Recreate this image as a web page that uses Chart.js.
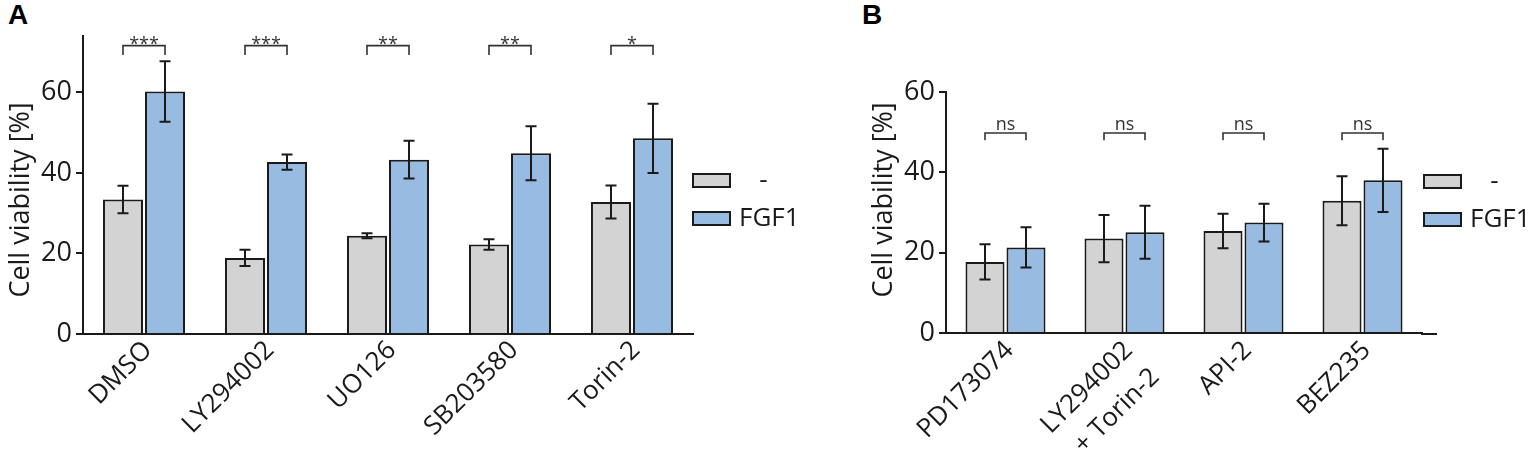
<!DOCTYPE html>
<html><head><meta charset="utf-8">
<script src="https://cdn.jsdelivr.net/npm/chart.js@4.4.0/dist/chart.umd.min.js"></script>
<style>
html,body{margin:0;padding:0;background:#fff;width:1535px;height:463px;overflow:hidden}
#wa{position:absolute;left:0;top:0;width:830px;height:463px}
#wb{position:absolute;left:840px;top:0;width:695px;height:463px}
.lab{position:absolute;font-family:"Liberation Sans",Arial,sans-serif;font-weight:bold;font-size:28px;line-height:28px;color:#000}
</style></head><body>
<div class="lab" style="left:8px;top:1px">A</div>
<div class="lab" style="left:862px;top:1px">B</div>
<div id="wa"><canvas id="ca" width="830" height="463"></canvas></div>
<div id="wb"><canvas id="cb" width="695" height="463"></canvas></div>
<script>
// ---- data ----
const seriesLabels = ['   -', 'FGF1'];
const yTitle = 'Cell viability [%]';

const categoriesA = ['DMSO', 'LY294002', 'UO126', 'SB203580', 'Torin-2'];
const controlA    = [33.4, 18.9, 24.4, 22.2, 32.8];
const controlErrA = [3.4, 2.0, 0.6, 1.3, 4.1];
const fgf1A       = [60.2, 42.7, 43.3, 44.9, 48.6];
const fgf1ErrA    = [7.5, 1.9, 4.7, 6.7, 8.6];
const signifA     = ['***', '***', '**', '**', '*'];

const categoriesB = ['PD173074', ['LY294002', '+ Torin-2'], 'API-2', 'BEZ235'];
const controlB    = [17.7, 23.5, 25.4, 32.9];
const controlErrB = [4.4, 5.9, 4.3, 6.1];
const fgf1B       = [21.3, 25.1, 27.5, 38.0];
const fgf1ErrB    = [5.0, 6.6, 4.7, 7.9];
const signifB     = ['ns', 'ns', 'ns', 'ns'];

// ---- styles ----
const FONT = "'Open Sans','Noto Sans',sans-serif";
const INK = '#1a1a1a';
const GRAY = '#d3d3d3';
const BLUE = '#98bbe1';

const decor = {
  id: 'decor',
  afterDatasetsDraw(chart, args, o) {
    const ctx = chart.ctx;
    const y = chart.scales.y;
    const ca = chart.chartArea;
    ctx.save();
    // error bars
    ctx.strokeStyle = INK; ctx.lineWidth = 2;
    chart.data.datasets.forEach((ds, di) => {
      const meta = chart.getDatasetMeta(di);
      meta.data.forEach((bar, i) => {
        const v = ds.data[i], e = o.errors[di][i];
        const x = bar.x, yt = y.getPixelForValue(v + e), yb = y.getPixelForValue(v - e);
        ctx.beginPath();
        ctx.moveTo(x, yt); ctx.lineTo(x, yb);
        ctx.moveTo(x - 5.5, yt); ctx.lineTo(x + 5.5, yt);
        ctx.moveTo(x - 5.5, yb); ctx.lineTo(x + 5.5, yb);
        ctx.stroke();
      });
    });
    // significance brackets
    const m0 = chart.getDatasetMeta(0), m1 = chart.getDatasetMeta(1);
    const bt = y.getPixelForValue(o.bracketLevel), bd = y.getPixelForValue(o.bracketLevel - o.bracketDrop);
    ctx.strokeStyle = '#333'; ctx.lineWidth = 1.6;
    ctx.fillStyle = '#333';
    ctx.font = o.sigSize + 'px ' + FONT;
    ctx.textAlign = 'center'; ctx.textBaseline = 'alphabetic';
    o.signif.forEach((s, i) => {
      const x0 = m0.data[i].x, x1 = m1.data[i].x;
      ctx.beginPath();
      ctx.moveTo(x0, bd); ctx.lineTo(x0, bt); ctx.lineTo(x1, bt); ctx.lineTo(x1, bd);
      ctx.stroke();
      ctx.fillText(s, (x0 + x1) / 2, bt + o.sigOffset);
    });
    // x-axis extension
    if (o.axisExtend) {
      ctx.strokeStyle = INK; ctx.lineWidth = 2;
      ctx.beginPath();
      ctx.moveTo(ca.right - 1, ca.bottom + 1); ctx.lineTo(ca.right + o.axisExtend, ca.bottom + 1);
      ctx.stroke();
    }
    // legend
    ctx.font = '26px ' + FONT;
    ctx.textAlign = 'left'; ctx.textBaseline = 'middle';
    chart.data.datasets.forEach((ds, i) => {
      const lx = ca.right + o.legendDx, ly = o.legendY + i * 38;
      ctx.fillStyle = ds.backgroundColor;
      ctx.fillRect(lx, ly, 37, 13);
      ctx.strokeStyle = INK; ctx.lineWidth = 2;
      ctx.strokeRect(lx, ly, 37, 13);
      ctx.fillStyle = INK;
      ctx.fillText(ds.label, lx + 46, ly + 7);
    });
    // y title
    ctx.save();
    ctx.translate(o.titleX, o.titleY);
    ctx.rotate(-Math.PI / 2);
    ctx.textAlign = 'center'; ctx.textBaseline = 'middle';
    ctx.fillStyle = INK;
    ctx.font = '27px ' + FONT;
    ctx.fillText(yTitle, 0, 0);
    ctx.restore();
    ctx.restore();
  }
};

function makeChart(id, c) {
  return new Chart(document.getElementById(id), {
    type: 'bar',
    data: {
      labels: c.labels,
      datasets: [
        { label: seriesLabels[0], data: c.ctrl, backgroundColor: GRAY, borderColor: INK, borderWidth: 2 },
        { label: seriesLabels[1], data: c.fgf, backgroundColor: BLUE, borderColor: INK, borderWidth: 2 }
      ]
    },
    plugins: [decor],
    options: {
      responsive: false,
      animation: false,
      categoryPercentage: 0.689,
      barPercentage: 0.952,
      layout: { padding: { top: c.top, right: c.right, left: 0, bottom: 0 } },
      plugins: {
        legend: { display: false },
        tooltip: { enabled: false },
        decor: {
          errors: [c.ctrlErr, c.fgfErr],
          signif: c.signif, bracketLevel: c.bLevel, bracketDrop: c.bDrop,
          sigSize: c.sigSize, sigOffset: c.sigOffset,
          axisExtend: c.extend, legendDx: c.legendDx, legendY: c.legendY,
          titleX: c.titleX, titleY: 200
        }
      },
      scales: {
        x: {
          grid: { display: false, drawTicks: false },
          border: { display: true, color: INK, width: 2 },
          ticks: {
            autoSkip: false, minRotation: 45, maxRotation: 45, padding: c.xpad, labelOffset: 4,
            color: INK, font: { family: FONT, size: 26, lineHeight: c.lh }
          },
          afterFit: s => { s.height = c.xh; }
        },
        y: {
          min: 0, max: c.ymax,
          ticks: { stepSize: 20, includeBounds: false, padding: 4, color: INK, font: { family: FONT, size: 27 } },
          grid: { drawOnChartArea: false, drawTicks: true, tickLength: 7, color: INK, lineWidth: 2 },
          border: { display: true, color: INK, width: 2 },
          afterFit: s => { s.width = c.yw; }
        }
      }
    }
  });
}

makeChart('ca', {
  labels: categoriesA, ctrl: controlA, ctrlErr: controlErrA, fgf: fgf1A, fgfErr: fgf1ErrA,
  signif: signifA, bLevel: 71.6, bDrop: 2.3, sigSize: 18, sigOffset: 4,
  top: 36, right: 137, yw: 83, xh: 129, ymax: 74, xpad: 1, lh: 1.2,
  extend: 0, legendDx: 0, legendY: 174, titleX: 21.5
});
makeChart('cb', {
  labels: categoriesB, ctrl: controlB, ctrlErr: controlErrB, fgf: fgf1B, fgfErr: fgf1ErrB,
  signif: signifB, bLevel: 49.8, bDrop: 1.8, sigSize: 18, sigOffset: -2.5,
  top: 92, right: 113, yw: 106, xh: 130, ymax: 60, xpad: 0, lh: 1.45,
  extend: 15, legendDx: 2, legendY: 175, titleX: 44
});
</script>
</body></html>
